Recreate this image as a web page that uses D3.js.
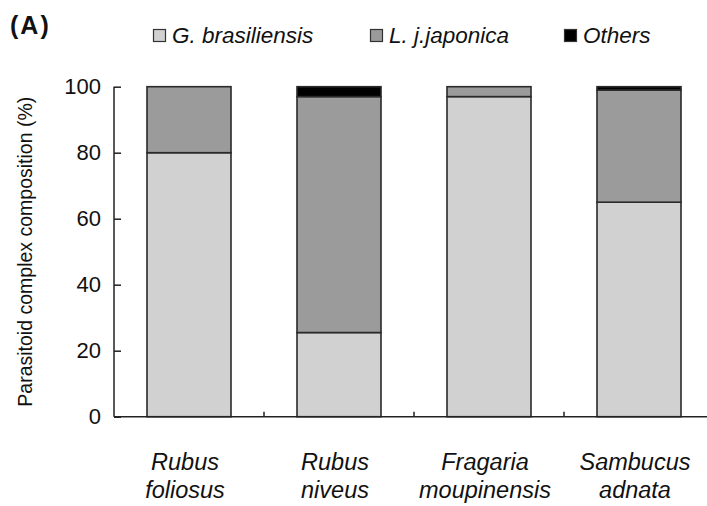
<!DOCTYPE html>
<html lang="en">
<head>
<meta charset="UTF-8">
<script src="https://d3js.org/d3.v7.min.js"></script>
<style>
  body { margin: 0; background: #fff; }
  text { font-family: "Liberation Sans", Arial, sans-serif; fill: #111; }
</style>
</head>
<body>
<svg id="chart" width="707" height="506"></svg>
<script>
// data
const hosts = [["Rubus", "foliosus"], ["Rubus", "niveus"], ["Fragaria", "moupinensis"], ["Sambucus", "adnata"]];
const species = ["G. brasiliensis", "L. j.japonica", "Others"];
const gBrasiliensis = [80, 25.5, 97, 65];
const lJaponica = [20, 71.5, 3, 34];
const others = [0, 3, 0, 1];
const yTicks = [0, 20, 40, 60, 80, 100];

const colors = ["#d0d1d0", "#9b9b9b", "#000000"];

const svg = d3.select("#chart");
const margin = {top: 86.7, left: 114, bottom: 89.3};
const plotH = 506 - margin.top - margin.bottom;

const rows = hosts.map((h, i) => ({
  key: i,
  "G. brasiliensis": gBrasiliensis[i],
  "L. j.japonica": lJaponica[i],
  "Others": others[i]
}));

const x = d3.scaleBand().domain(d3.range(hosts.length)).range([0, 600]).paddingInner(0).paddingOuter(0);
const y = d3.scaleLinear().domain([0, 100]).range([plotH, 0]);
const color = d3.scaleOrdinal().domain(species).range(colors);

const g = svg.append("g").attr("transform", "translate(" + margin.left + "," + margin.top + ")");

const stack = d3.stack().keys(species)(rows);
const barW = 84;

g.selectAll("g.layer").data(stack).join("g")
  .attr("class", "layer")
  .attr("fill", d => color(d.key))
  .selectAll("rect").data(d => d.filter(p => p[1] - p[0] > 0)).join("rect")
    .attr("x", d => x(d.data.key) + x.bandwidth() / 2 - barW / 2)
    .attr("width", barW)
    .attr("y", d => y(d[1]))
    .attr("height", d => y(d[0]) - y(d[1]))
    .attr("stroke", "#2a2a2a")
    .attr("stroke-width", 1.6);

// y axis, ticks inside
const yAxis = g.append("g")
  .call(d3.axisLeft(y).tickValues(yTicks).tickSize(-7).tickPadding(13));
yAxis.select(".domain").attr("stroke", "#222").attr("stroke-width", 1.5).attr("d", "M0," + y(100) + "V" + y(0));
yAxis.selectAll(".tick line").attr("stroke", "#222").attr("stroke-width", 1.5);
yAxis.selectAll(".tick text").style("font-size", "22px").attr("fill", "#111");

// x axis: band boundaries as short ticks pointing up
const xg = g.append("g").attr("transform", "translate(0," + plotH + ")");
xg.append("line").attr("x1", 0).attr("x2", 600).attr("stroke", "#222").attr("stroke-width", 1.5);
xg.selectAll("line.tk").data(d3.range(1, hosts.length)).join("line")
  .attr("class", "tk")
  .attr("x1", d => x(d)).attr("x2", d => x(d))
  .attr("y1", 0).attr("y2", -5)
  .attr("stroke", "#222").attr("stroke-width", 1.5);

const lbl = xg.selectAll("text.host").data(hosts).join("text")
  .attr("class", "host")
  .attr("text-anchor", "middle")
  .attr("font-style", "italic")
  .style("font-size", "23.5px")
  .attr("transform", (d, i) => "translate(" + (x(i) + x.bandwidth() / 2 - 4) + ",0)");
lbl.append("tspan").attr("x", 0).attr("y", 53).text(d => d[0]);
lbl.append("tspan").attr("x", 0).attr("y", 81).text(d => d[1]);

// y title
svg.append("text")
  .attr("transform", "translate(32," + (margin.top + plotH / 2) + ") rotate(-90)")
  .attr("text-anchor", "middle")
  .style("font-size", "19.5px")
  .text("Parasitoid complex composition (%)");

// panel label
svg.append("text").attr("x", 10).attr("y", 34)
  .style("font-size", "25px").style("font-weight", "bold")
  .style("letter-spacing", "2px")
  .text("(A)");

// legend
const legX = [153, 370, 564];
const leg = svg.append("g").selectAll("g").data(species).join("g")
  .attr("transform", (d, i) => "translate(" + legX[i] + ",29)");
leg.append("rect").attr("x", 0.5).attr("y", 0.5).attr("width", 12).attr("height", 12)
  .attr("fill", d => color(d)).attr("stroke", "#333").attr("stroke-width", 1.2);
leg.append("text").attr("x", 19).attr("y", 14)
  .attr("font-style", "italic").style("font-size", "22.5px")
  .text(d => d);
</script>
</body>
</html>
